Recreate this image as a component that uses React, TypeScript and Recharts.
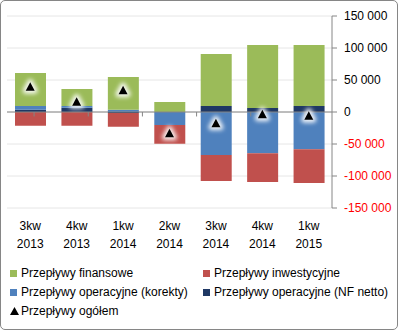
import {
  ComposedChart, Bar, Scatter, XAxis, YAxis, CartesianGrid, ReferenceLine,
} from 'recharts'

const quarters = ['3kw', '4kw', '1kw', '2kw', '3kw', '4kw', '1kw']
const years = ['2013', '2013', '2014', '2014', '2014', '2014', '2015']

const finansowe = [51500, 26500, 51000, 15600, 81200, 98400, 95300]
const inwestycyjne = [-21400, -21400, -21500, -29200, -40600, -44800, -52600]
const korekty = [5800, 2600, 3600, -20300, -67200, -64600, -58300]
const nfNetto = [3500, 6700, -1500, 0, 9400, 6200, 9400]
const ogolem = [39500, 16000, 34000, -33300, -17700, -3600, -5800]

const yTicks = [-150000, -100000, -50000, 0, 50000, 100000, 150000]
const boundaries = [-0.5, 0.5, 1.5, 2.5, 3.5, 4.5, 5.5]

const GREEN = '#9BBB59'
const RED = '#C0504D'
const BLUE = '#4F81BD'
const NAVY = '#1F3864'
const AXIS = '#868686'
const FONT = "'Liberation Sans', Arial, sans-serif"

const data = quarters.map((q, i) => ({
  name: `${q} ${years[i]}`,
  q,
  year: years[i],
  finansowe: finansowe[i],
  inwestycyjne: inwestycyjne[i],
  korekty: korekty[i],
  nfNetto: nfNetto[i],
  ogolem: ogolem[i],
}))

const fmt = (v: number) => {
  const s = Math.abs(v).toString().replace(/\B(?=(\d{3})+(?!\d))/g, ' ')
  return v < 0 ? `-${s}` : s
}

function YTick({ x, y, payload }: any) {
  return (
    <text x={x} y={y} dy="0.36em" textAnchor="start" fontSize={12}
          fontFamily={FONT} fill={payload.value < 0 ? '#FF0000' : '#000'}>
      {fmt(payload.value)}
    </text>
  )
}

function XTick({ x, y, index }: any) {
  return (
    <text x={x} y={y} textAnchor="middle" fontSize={12} fontFamily={FONT} fill="#000">
      <tspan x={x} dy={22}>{quarters[index]}</tspan>
      <tspan x={x} dy={18}>{years[index]}</tspan>
    </text>
  )
}

function Triangle({ cx, cy }: any) {
  const pts = `${cx},${cy - 4.5} ${cx + 4.5},${cy + 4} ${cx - 4.5},${cy + 4}`
  return (
    <g>
      <defs>
        <filter id="glow" x="-100%" y="-100%" width="300%" height="300%">
          <feGaussianBlur stdDeviation="2" />
        </filter>
      </defs>
      <polygon points={pts} fill="#fff" stroke="#fff" strokeWidth={6}
               strokeLinejoin="round" filter="url(#glow)" opacity={0.9} />
      <polygon points={pts} fill="#000" />
    </g>
  )
}

const legend = [
  { label: 'Przepływy finansowe', color: GREEN, x: 10, y: 272 },
  { label: 'Przepływy inwestycyjne', color: RED, x: 203, y: 272 },
  { label: 'Przepływy operacyjne (korekty)', color: BLUE, x: 10, y: 291 },
  { label: 'Przepływy operacyjne (NF netto)', color: NAVY, x: 203, y: 291 },
  { label: 'Przepływy ogółem', color: '', x: 10, y: 310 },
]

export default function App() {
  return (
    <div style={{
      position: 'absolute', left: 0, top: 0, width: 398, height: 330,
      boxSizing: 'border-box', border: `1px solid ${AXIS}`, borderRadius: 5,
      background: '#fff', fontFamily: FONT, overflow: 'hidden',
    }}>
      <div style={{ position: 'absolute', left: -1, top: -1 }}>
        <ComposedChart width={398} height={255} data={data} stackOffset="sign"
                       margin={{ top: 16, right: 0, left: 7, bottom: 0 }}>
          <CartesianGrid horizontal vertical={false} stroke="#E6E6E6"
                         xAxisId="cat" yAxisId="y" />
          <XAxis xAxisId="cat" dataKey="name" axisLine={false} tickLine={false}
                 tickSize={0} tickMargin={0} height={47} interval={0}
                 tick={<XTick />} />
          <XAxis xAxisId="num" type="number" domain={[-0.5, 6.5]} hide />
          <YAxis yAxisId="y" orientation="right" width={66}
                 domain={[-150000, 150000]} ticks={yTicks} interval={0}
                 axisLine={{ stroke: AXIS }} tickLine={{ stroke: AXIS }}
                 tickSize={5} tickMargin={7} tick={<YTick />} />
          <Bar xAxisId="cat" yAxisId="y" dataKey="nfNetto" stackId="a" fill={NAVY}
               barSize={31} isAnimationActive={false} />
          <Bar xAxisId="cat" yAxisId="y" dataKey="korekty" stackId="a" fill={BLUE}
               barSize={31} isAnimationActive={false} />
          <Bar xAxisId="cat" yAxisId="y" dataKey="finansowe" stackId="a" fill={GREEN}
               barSize={31} isAnimationActive={false} />
          <Bar xAxisId="cat" yAxisId="y" dataKey="inwestycyjne" stackId="a" fill={RED}
               barSize={31} isAnimationActive={false} />
          <ReferenceLine xAxisId="num" yAxisId="y" y={0} stroke={AXIS} />
          {boundaries.map((b) => (
            <ReferenceLine key={b} xAxisId="num" yAxisId="y" stroke={AXIS}
                           segment={[{ x: b, y: 0 }, { x: b, y: -7000 }]} />
          ))}
          <Scatter xAxisId="cat" yAxisId="y" dataKey="ogolem" shape={<Triangle />}
                   isAnimationActive={false} />
        </ComposedChart>
      </div>
      {legend.map((l) => (
        <div key={l.label} style={{
          position: 'absolute', left: l.x - 1, top: l.y - 8, height: 16,
          display: 'flex', alignItems: 'center', fontSize: 12, color: '#000',
          whiteSpace: 'nowrap',
        }}>
          {l.color ? (
            <span style={{ width: 7, height: 7, background: l.color, marginRight: 4 }} />
          ) : (
            <svg width={9} height={8} style={{ marginRight: 2 }}>
              <polygon points="4.5,0 9,8 0,8" fill="#000" />
            </svg>
          )}
          {l.label}
        </div>
      ))}
    </div>
  )
}
